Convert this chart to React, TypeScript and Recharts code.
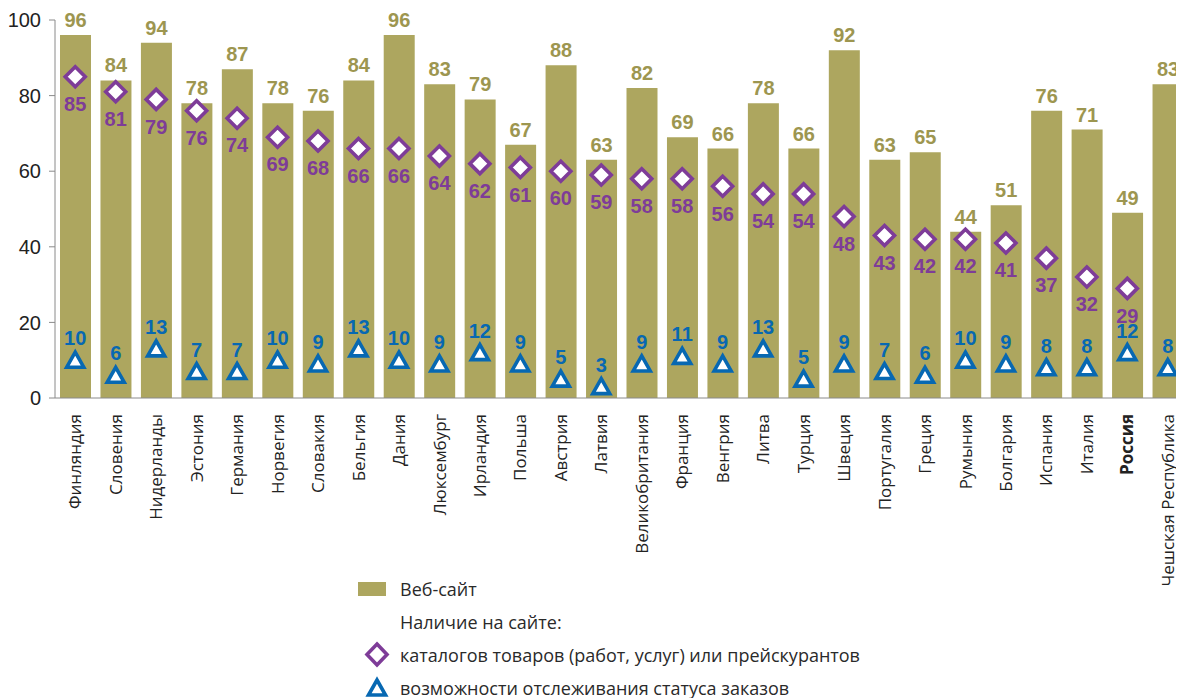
import React from 'react';
import { ComposedChart, Bar, Line, XAxis, YAxis, LabelList, Legend } from 'recharts';

const countries = [
  'Финляндия', 'Словения', 'Нидерланды', 'Эстония', 'Германия', 'Норвегия', 'Словакия',
  'Бельгия', 'Дания', 'Люксембург', 'Ирландия', 'Польша', 'Австрия', 'Латвия',
  'Великобритания', 'Франция', 'Венгрия', 'Литва', 'Турция', 'Швеция', 'Португалия',
  'Греция', 'Румыния', 'Болгария', 'Испания', 'Италия', 'Россия', 'Чешская Республика',
];
const website = [96, 84, 94, 78, 87, 78, 76, 84, 96, 83, 79, 67, 88, 63, 82, 69, 66, 78, 66, 92, 63, 65, 44, 51, 76, 71, 49, 83];
const catalogs: (number | null)[] = [85, 81, 79, 76, 74, 69, 68, 66, 66, 64, 62, 61, 60, 59, 58, 58, 56, 54, 54, 48, 43, 42, 42, 41, 37, 32, 29, null];
const tracking = [10, 6, 13, 7, 7, 10, 9, 13, 10, 9, 12, 9, 5, 3, 9, 11, 9, 13, 5, 9, 7, 6, 10, 9, 8, 8, 12, 8];
const yTicks = [0, 20, 40, 60, 80, 100];
const highlight = 'Россия';

const legendWeb = 'Веб-сайт';
const legendTitle = 'Наличие на сайте:';
const legendCat = 'каталогов товаров (работ, услуг) или прейскурантов';
const legendTrk = 'возможности отслеживания статуса заказов';

const OLIVE = '#ADA65F';
const OLIVE_TEXT = '#9D9650';
const PURPLE = '#7E3C98';
const BLUE = '#0768B2';
const NUM_FONT = '"Liberation Sans Narrow", "Arial Narrow", "Liberation Sans", sans-serif';
const TXT_FONT = '"Open Sans", "DejaVu Sans", sans-serif';

const data = countries.map((name, i) => ({
  name,
  web: website[i],
  cat: catalogs[i],
  trk: tracking[i],
}));
const boundaries = countries.map((_, i) => i).concat(countries.length);

const Diamond = (props: any) => {
  const { cx, cy, value, index } = props;
  if (value == null || cx == null || cy == null) return <g key={`d${index}`} />;
  const r = 10;
  return (
    <path
      key={`d${index}`}
      d={`M${cx},${cy - r} L${cx + r},${cy} L${cx},${cy + r} L${cx - r},${cy} Z`}
      fill="#fff"
      stroke={PURPLE}
      strokeWidth={3.6}
      strokeLinejoin="miter"
    />
  );
};

const Triangle = (props: any) => {
  const { cx, cy, value, index } = props;
  if (value == null || cx == null || cy == null) return <g key={`t${index}`} />;
  return (
    <path
      key={`t${index}`}
      d={`M${cx},${cy - 8} L${cx + 8.5},${cy + 7} L${cx - 8.5},${cy + 7} Z`}
      fill="#fff"
      stroke={BLUE}
      strokeWidth={3.6}
      strokeLinejoin="miter"
    />
  );
};

const CountryTick = (props: any) => {
  const { x, y, payload } = props;
  const bold = payload.value === highlight;
  return (
    <text
      x={x}
      y={y}
      transform={`rotate(-90, ${x}, ${y})`}
      textAnchor="end"
      dy="0.36em"
      fontFamily={TXT_FONT}
      fontSize={17}
      fontWeight={bold ? 700 : 400}
      fill="#222"
    >
      {payload.value}
    </text>
  );
};

const LegendContent = () => {
  const row: React.CSSProperties = {
    display: 'flex',
    alignItems: 'center',
    height: 33,
    fontFamily: TXT_FONT,
    fontSize: 18,
    color: '#2a2a2a',
    whiteSpace: 'nowrap',
  };
  const icon: React.CSSProperties = { width: 44, display: 'flex', justifyContent: 'flex-start' };
  return (
    <div>
      <div style={row}>
        <div style={icon}>
          <svg width={30} height={16}>
            <rect x={2} y={1} width={28} height={14} fill={OLIVE} />
          </svg>
        </div>
        <span>{legendWeb}</span>
      </div>
      <div style={row}>
        <div style={icon} />
        <span>{legendTitle}</span>
      </div>
      <div style={row}>
        <div style={icon}>
          <svg width={34} height={28}>
            <path d="M21,3 L31,13.5 L21,24 L11,13.5 Z" fill="#fff" stroke={PURPLE} strokeWidth={3.6} />
          </svg>
        </div>
        <span>{legendCat}</span>
      </div>
      <div style={row}>
        <div style={icon}>
          <svg width={34} height={26}>
            <path d="M21,5 L29.5,20 L12.5,20 Z" fill="#fff" stroke={BLUE} strokeWidth={3.6} />
          </svg>
        </div>
        <span>{legendTrk}</span>
      </div>
    </div>
  );
};

export default function App() {
  return (
    <div style={{ width: 1184, height: 698, overflow: 'hidden', margin: '-8px 0 0 -8px', position: 'relative' }}>
      <ComposedChart
        width={1188}
        height={698}
        data={data}
        margin={{ top: 20, right: 0, bottom: 142, left: 0 }}
      >
        <XAxis
          xAxisId="b_cat"
          dataKey="name"
          type="category"
          interval={0}
          axisLine={false}
          tickLine={false}
          tickSize={0}
          tickMargin={8}
          height={150}
          tick={<CountryTick />}
        />
        <XAxis
          xAxisId="a_ticks"
          type="number"
          domain={[0, countries.length]}
          ticks={boundaries}
          tick={false}
          height={8}
          tickSize={6}
          stroke="#8a8a8a"
          allowDataOverflow
        />
        <YAxis
          domain={[0, 100]}
          ticks={yTicks}
          width={55}
          tickSize={6}
          tickMargin={8}
          stroke="#8a8a8a"
          tick={{ fill: '#222', fontSize: 20, fontFamily: NUM_FONT }}
          interval={0}
        />
        <Legend
          layout="vertical"
          align="center"
          verticalAlign="middle"
          content={<LegendContent />}
          wrapperStyle={{ left: 356, top: 572, width: 640 }}
        />
        <Bar xAxisId="b_cat" dataKey="web" fill={OLIVE} barSize={31} isAnimationActive={false}>
          <LabelList
            dataKey="web"
            position="top"
            offset={8}
            fill={OLIVE_TEXT}
            fontFamily={NUM_FONT}
            fontWeight={700}
            fontSize={20}
          />
        </Bar>
        <Line
          xAxisId="b_cat"
          dataKey="cat"
          stroke="none"
          dot={Diamond}
          activeDot={false}
          isAnimationActive={false}
          connectNulls={false}
        >
          <LabelList
            dataKey="cat"
            position="bottom"
            offset={20}
            fill={PURPLE}
            fontFamily={NUM_FONT}
            fontWeight={700}
            fontSize={20}
          />
        </Line>
        <Line
          xAxisId="b_cat"
          dataKey="trk"
          stroke="none"
          dot={Triangle}
          activeDot={false}
          isAnimationActive={false}
        >
          <LabelList
            dataKey="trk"
            position="top"
            offset={15}
            fill={BLUE}
            fontFamily={NUM_FONT}
            fontWeight={700}
            fontSize={20}
          />
        </Line>
      </ComposedChart>
    </div>
  );
}
